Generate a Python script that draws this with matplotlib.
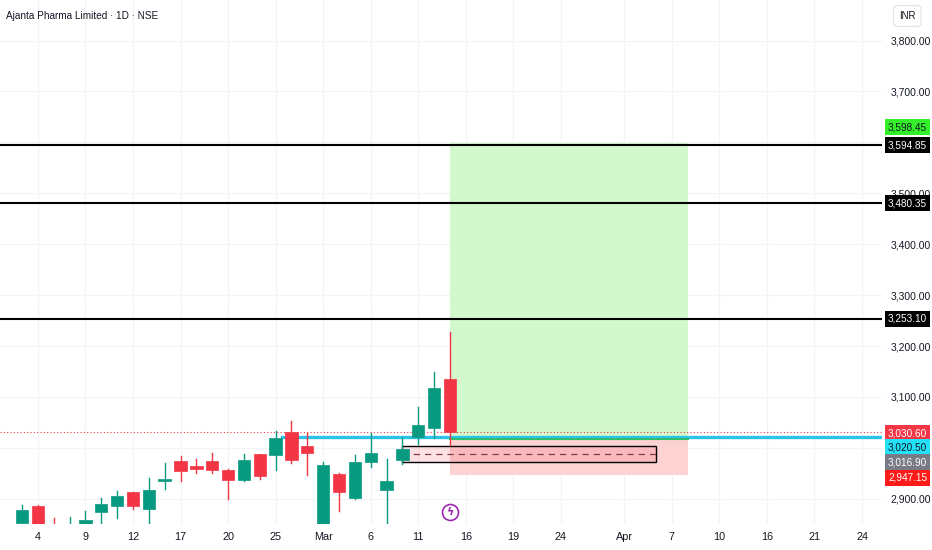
import matplotlib.pyplot as plt
from matplotlib.patches import Rectangle
from matplotlib.transforms import blended_transform_factory, offset_copy

# daily candles, Feb 3 -> Mar 13 (bar index = position)
dates = ['3', '4', '5', '6', '9', '10', '11', '12', '13', '16', '17', '18', '19', '20',
         '23', '24', '25', '26', '27', 'Mar 2', '4', '5', '6', '9', '10', '11', '12', '13']
opens = [2852, 2886, 2840, 2815, 2848, 2873, 2886, 2913, 2880, 2934, 2975, 2964, 2974, 2956,
         2936, 2987, 2985, 3032, 3003, 2845, 2949, 2901, 2973, 2917, 2976, 3021, 3038, 3135]
highs = [2888, 2888, 2863, 2864, 2876, 2901, 2916, 2914, 2940, 2970, 2983, 2978, 2990, 2958,
         2987, 2988, 3034, 3053, 3029, 2973, 2950, 2986, 3030, 2979, 3022, 3080, 3148, 3227]
lows = [2846, 2835, 2800, 2800, 2840, 2850, 2863, 2879, 2848, 2919, 2935, 2950, 2950, 2899,
        2935, 2938, 2956, 2970, 2946, 2840, 2875, 2899, 2963, 2850, 2968, 3008, 3019, 3006]
closes = [2878, 2845, 2815, 2840, 2859, 2890, 2905, 2886, 2918, 2938, 2955, 2958, 2956, 2937,
          2976, 2945, 3019, 2976, 2990, 2966, 2913, 2973, 2989, 2934, 2997, 3045, 3117, 3030.60]

# x axis labels (bar index, text)
xtick_pos = [1, 4, 7, 10, 13, 16, 19, 22, 25, 28, 31, 34, 38, 41, 44, 47, 50, 53]
xtick_lbl = ['4', '9', '12', '17', '20', '25', 'Mar', '6', '11', '16', '19', '24', 'Apr',
             '7', '10', '16', '21', '24']
yticks = [2900, 3000, 3100, 3200, 3300, 3400, 3500, 3600, 3700, 3800]
# scale labels covered by the price tags
hidden_yticks = [3000, 3600]

# drawn levels
black_levels = [3594.85, 3480.35, 3253.10]
last_price = 3030.60
cyan_level = 3020.50
cyan_start = 16.4
# long position tool
entry = 3016.90
target = 3598.45
stop = 2947.15
pos_start, pos_end = 27, 42
# rectangle with mid line
box_lo, box_hi = 2971.6, 3004.2
box_start, box_end = 24, 40

up = '#089981'
down = '#f23645'
txt = '#131722'

fig = plt.figure(figsize=(9.32, 5.5), dpi=100)
ax = fig.add_axes([0, 26 / 550, 882 / 932, 524 / 550])
ax.set_xlim(-1.39, 54.26)
ax.set_ylim(2850.4, 3879.7)
for s in ax.spines.values():
    s.set_visible(False)

# grid
for v in yticks:
    ax.axhline(v, color='#f3f4f6', lw=0.9, zorder=0)
for p in xtick_pos:
    ax.axvline(p, color='#f3f4f6', lw=0.9, zorder=0)

# position tool zones
ax.add_patch(Rectangle((pos_start, entry), pos_end - pos_start, target - entry,
                       fc='#d3f8cc', ec='none', zorder=1))
ax.add_patch(Rectangle((pos_start, stop), pos_end - pos_start, entry - stop,
                       fc='#fcd2d2', ec='none', zorder=1))

# rectangle
ax.add_patch(Rectangle((box_start, box_lo), box_end - box_start, box_hi - box_lo,
                       fc=(0.95, 0.21, 0.27, 0.15), ec='black', lw=1, zorder=2))
ax.plot([box_start, box_end], [(box_lo + box_hi) / 2] * 2, color='#7b3b4b', lw=0.9,
        ls=(0, (5, 4)), zorder=2)

# horizontal lines
for lv in black_levels:
    ax.axhline(lv, color='black', lw=1.5, zorder=3)
ax.axhline(last_price, color=down, lw=0.8, ls=(0, (1, 2)), zorder=3)
ax.plot([cyan_start, 54.26], [cyan_level] * 2, color='#2bc4e8', lw=2.4, zorder=3)
ax.plot([pos_start, pos_end], [entry] * 2, color='#2ebd6b', lw=1.5, zorder=3)

# candles
for i in range(len(opens)):
    o, h, l, c = opens[i], highs[i], lows[i], closes[i]
    col = up if c >= o else down
    ax.plot([i, i], [l, h], color=col, lw=1, zorder=4)
    ax.add_patch(Rectangle((i - 0.39, min(o, c)), 0.78, max(abs(c - o), 1.5),
                           fc=col, ec=col, lw=0.5, zorder=5))

# lightning icon
bt = blended_transform_factory(ax.transData, ax.transAxes)
ax.plot([27], [0.0235], marker='o', ms=11.5, mfc='white', mec='#9c27b0', mew=1.2,
        transform=bt, zorder=6, clip_on=False)
ax.text(27, 0.0235, 'ϟ', color='#9c27b0', fontsize=8, ha='center', va='center',
        transform=bt, zorder=7, fontweight='bold')

# axes ticks
ax.yaxis.tick_right()
ax.set_yticks(yticks)
ax.set_yticklabels(['' if v in hidden_yticks else f'{v:,.2f}' for v in yticks],
                   fontsize=7.5, color=txt, family='Liberation Sans')
ax.set_xticks(xtick_pos)
ax.set_xticklabels(xtick_lbl, fontsize=7.8, color=txt, family='Liberation Sans')
ax.tick_params(axis='both', length=0)
ax.tick_params(axis='y', pad=6)
ax.tick_params(axis='x', pad=6)

# price labels on the right scale (dy = pixels downward)
lt = blended_transform_factory(ax.transAxes, ax.transData)
price_tags = [
    (target, -16, '#33f02a', txt),
    (3594.85, 0, 'black', 'white'),
    (3480.35, 0, 'black', 'white'),
    (3253.10, 0, 'black', 'white'),
    (last_price, 1, down, 'white'),
    (cyan_level, 10, '#22e0f5', txt),
    (entry, 23, '#787b86', 'white'),
    (stop, 3, '#ff1a1a', 'white'),
]
for val, dy, bg, fg in price_tags:
    tr = offset_copy(lt, fig=fig, x=0, y=-dy, units='dots')
    ax.text(888 / 882, val, f'{val:,.2f}', transform=tr, ha='left', va='center',
            fontsize=7.2, color=fg, family='Liberation Sans', zorder=10, clip_on=False,
            bbox=dict(boxstyle='square,pad=0.3', fc=bg, ec='none'))

# currency box and title
fig.text(899 / 932, 1 - 16 / 550, 'INR', fontsize=7, color=txt, va='center',
         family='Liberation Sans',
         bbox=dict(boxstyle='round,pad=0.55,rounding_size=0.3', fc='white', ec='#e0e3eb', lw=0.8))
fig.text(6 / 932, 1 - 16 / 550, 'Ajanta Pharma Limited · 1D · NSE', fontsize=7.2,
         color=txt, va='center', family='Liberation Sans')

fig.savefig('out.png', dpi=100)
